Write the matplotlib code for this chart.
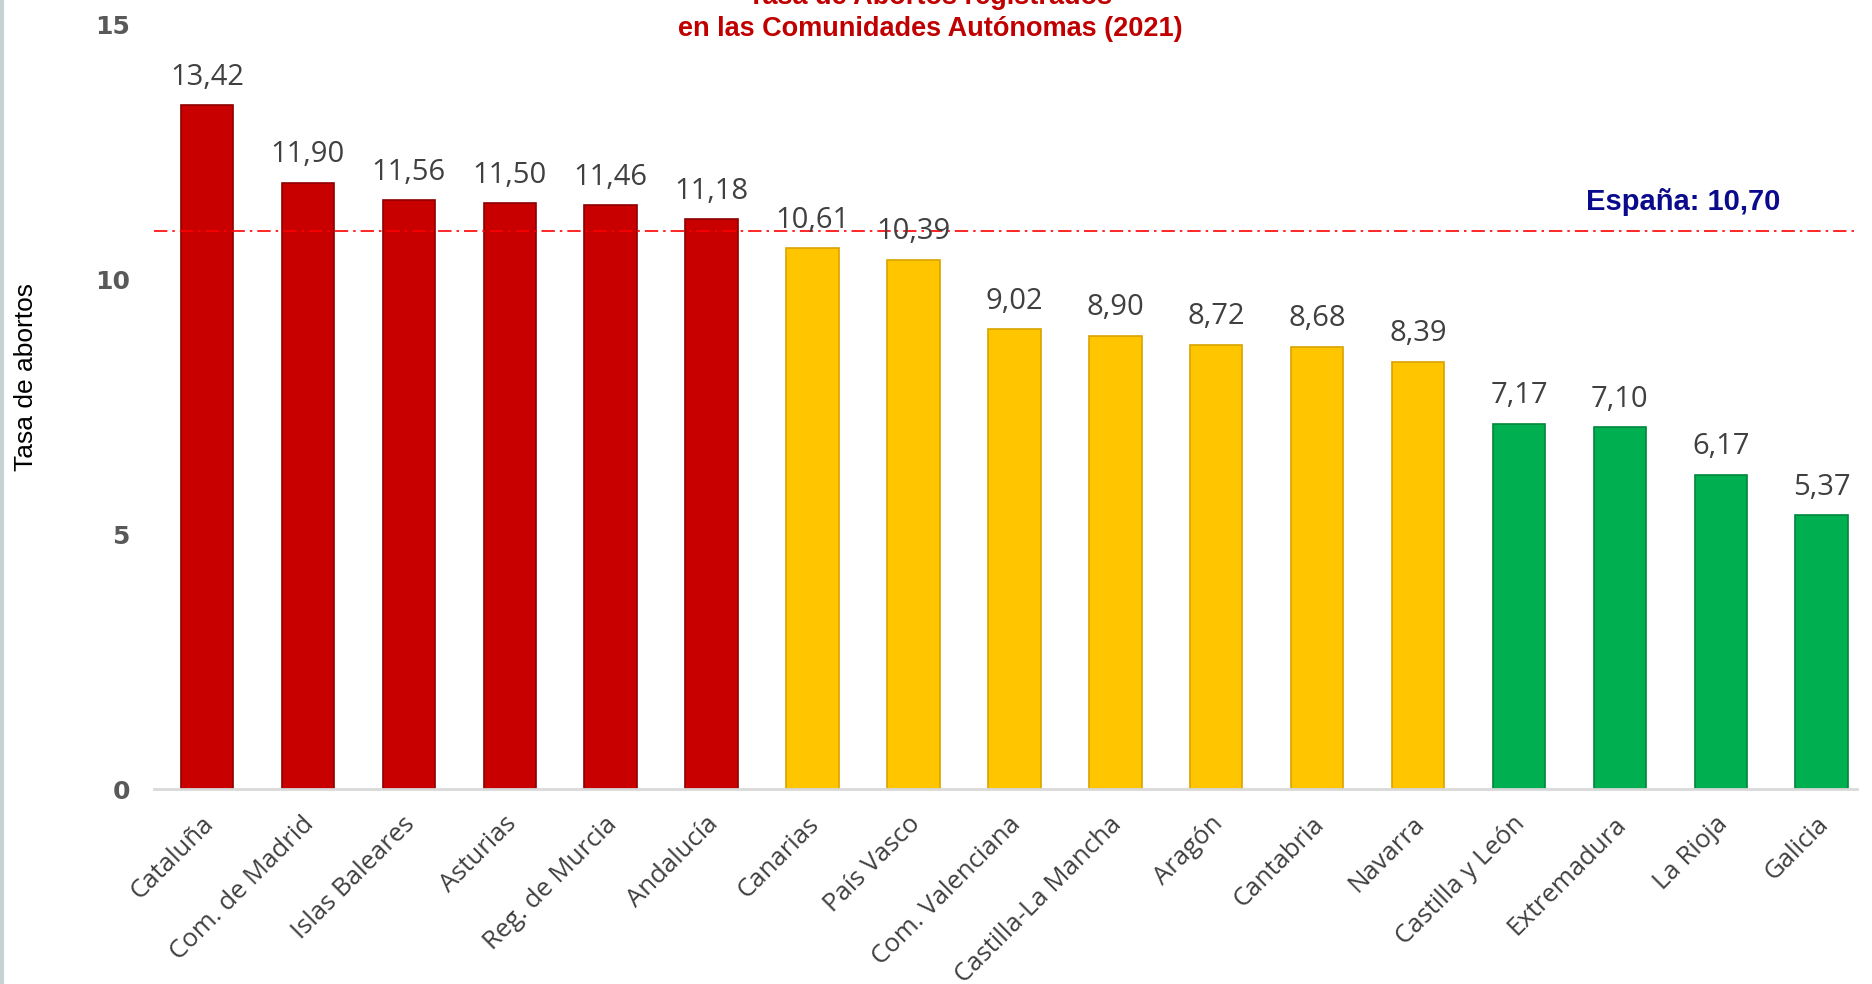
import matplotlib.pyplot as plt
from matplotlib.transforms import ScaledTranslation

comunidades = ["Cataluña", "Com. de Madrid", "Islas Baleares", "Asturias",
               "Reg. de Murcia", "Andalucía", "Canarias", "País Vasco",
               "Com. Valenciana", "Castilla-La Mancha", "Aragón", "Cantabria",
               "Navarra", "Castilla y León", "Extremadura", "La Rioja", "Galicia"]
tasas = [13.42, 11.90, 11.56, 11.50, 11.46, 11.18, 10.61, 10.39,
         9.02, 8.90, 8.72, 8.68, 8.39, 7.17, 7.10, 6.17, 5.37]
grupo = ["alto"] * 6 + ["medio"] * 7 + ["bajo"] * 4
linea_espana = 10.95  # posicion de la linea tal como aparece en el grafico
texto_espana = "España: 10,70"
yticks = [0, 5, 10, 15]

colores = {"alto": "#C80000", "medio": "#FFC600", "bajo": "#00B050"}
bordes = {"alto": "#8E0000", "medio": "#D9A300", "bajo": "#00863C"}

fig = plt.figure(figsize=(18.72, 9.84), dpi=100)
ax = fig.add_axes([0.082, 0.198, 0.91, 0.777])

x = list(range(len(comunidades)))
ax.bar(x, tasas, width=0.52,
       color=[colores[g] for g in grupo],
       edgecolor=[bordes[g] for g in grupo], linewidth=1.2, zorder=2)

for xi, v in zip(x, tasas):
    ax.annotate(f"{v:.2f}".replace(".", ","), (xi, v), xytext=(0, 20),
                textcoords="offset points", ha="center", va="center",
                fontsize=21, color="#404040", family="Open Sans", zorder=4)

ax.axhline(linea_espana, color="#FF0000", linestyle=(0, (8, 3, 1.5, 3)),
           linewidth=1.2, zorder=3)
ax.text(14.63, linea_espana + 0.3, texto_espana, ha="center", va="bottom",
        fontsize=21, fontweight="bold", color="#0A0A8C", family="Liberation Sans")

ax.set_xlim(-0.53, 16.35)
ax.set_ylim(0, 15)
ax.set_yticks(yticks)
ax.set_yticklabels([str(t) for t in yticks], fontsize=18, fontweight="bold",
                   color="#595959")
ax.set_xticks(x)
ax.set_xticklabels(comunidades, rotation=45, ha="right", rotation_mode="anchor",
                   fontsize=18.5, color="#404040", family="Open Sans")
ax.tick_params(axis="both", length=0)
ax.tick_params(axis="y", pad=17)
ax.tick_params(axis="x", pad=14)
desplaz = ScaledTranslation(-6 / 100, -3 / 100, fig.dpi_scale_trans)
for lab in ax.get_xticklabels():
    lab.set_transform(lab.get_transform() + desplaz)

for s in ["top", "right", "left"]:
    ax.spines[s].set_visible(False)
ax.spines["bottom"].set_color("#D9D9D9")
ax.spines["bottom"].set_linewidth(2)

fig.text(0.014, 0.617, "Tasa de abortos", rotation=90, ha="center", va="center",
         fontsize=19, color="#000000", family="Liberation Sans")

fig.text(0.497, 1.003, "Tasa de Abortos registrados", ha="center", va="center",
         fontsize=19.5, fontweight="bold", color="#C00000", family="Liberation Sans")
fig.text(0.497, 0.971, "en las Comunidades Autónomas (2021)", ha="center",
         va="center", fontsize=19.5, fontweight="bold", color="#C00000",
         family="Liberation Sans")

# borde gris a la izquierda
fig.add_artist(plt.Line2D([0.001, 0.001], [0, 1], color="#C5D2D2", linewidth=3))

fig.savefig("out.png", dpi=100)
